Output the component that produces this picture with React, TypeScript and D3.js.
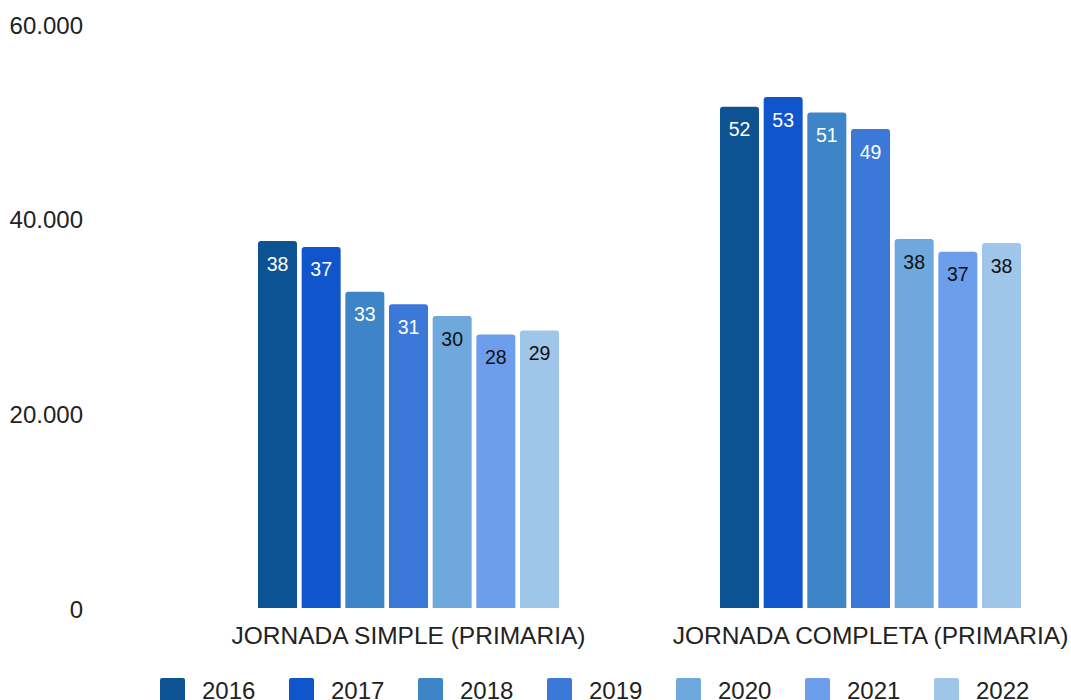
import React from "react";
import * as d3 from "d3";

const categories = ["JORNADA SIMPLE (PRIMARIA)", "JORNADA COMPLETA (PRIMARIA)"];
const years = ["2016", "2017", "2018", "2019", "2020", "2021", "2022"];
const simpleValues = [37700, 37100, 32500, 31200, 30000, 28100, 28500];
const completaValues = [51500, 52500, 50900, 49200, 37900, 36600, 37500];
const yTicks = [0, 20000, 40000, 60000];
const colors = ["#0d5394", "#1155cc", "#3d85c6", "#3c78d8", "#6fa8dc", "#6d9eeb", "#9fc5e8"];
const labelColors = ["#ffffff", "#ffffff", "#ffffff", "#ffffff", "#111111", "#111111", "#111111"];

const W = 1071;
const H = 700;
const FONT = "'Liberation Sans', Arial, sans-serif";

export default function App() {
  const series = [simpleValues, completaValues];
  const y = d3.scaleLinear().domain([0, 60000]).range([608, 24]);
  const x0 = d3.scaleBand<string>().domain(categories).range([177.5, 1101.5]);
  const gw = 7 * 43.67;
  const x1 = d3
    .scaleBand<string>()
    .domain(years)
    .range([-gw / 2, gw / 2])
    .paddingInner(0.107)
    .paddingOuter(0.0535);
  const fmt = (v: number) => d3.format(",")(v).replace(/,/g, ".");
  const r = 3;
  const barPath = (x: number, w: number, top: number, bottom: number) =>
    `M${x},${bottom}V${top + r}Q${x},${top} ${x + r},${top}H${x + w - r}Q${x + w},${top} ${x + w},${top + r}V${bottom}Z`;

  return (
    <svg width={W} height={H} style={{ position: "absolute", left: 0, top: 0, background: "#fff" }}>
      <rect width={W} height={H} fill="#fff" />
      {yTicks.map((t) => (
        <text key={t} x={83} y={y(t) + 9.5} textAnchor="end" fontFamily={FONT} fontSize={24} fill="#222">
          {fmt(t)}
        </text>
      ))}
      {categories.map((c, ci) => {
        const cx = (x0(c) as number) + x0.bandwidth() / 2;
        return (
          <g key={c}>
            {years.map((yr, i) => {
              const v = series[ci][i];
              const bx = cx + (x1(yr) as number);
              const bw = x1.bandwidth();
              return (
                <g key={yr}>
                  <path d={barPath(bx, bw, y(v), y(0))} fill={colors[i]} />
                  <text
                    x={bx + bw / 2}
                    y={y(v) + 29.5}
                    textAnchor="middle"
                    fontFamily={FONT}
                    fontSize={19.5}
                    fill={labelColors[i]}
                  >
                    {Math.round(v / 1000)}
                  </text>
                </g>
              );
            })}
            <text x={cx} y={643.5} textAnchor="middle" fontFamily={FONT} fontSize={24.5} fill="#222">
              {c}
            </text>
          </g>
        );
      })}
      {years.map((yr, i) => {
        const lx = 160 + i * 129;
        return (
          <g key={yr}>
            <rect x={lx} y={678} width={25} height={25} rx={2} fill={colors[i]} />
            <text x={lx + 42} y={699} fontFamily={FONT} fontSize={24} fill="#222">
              {yr}
            </text>
          </g>
        );
      })}
    </svg>
  );
}
